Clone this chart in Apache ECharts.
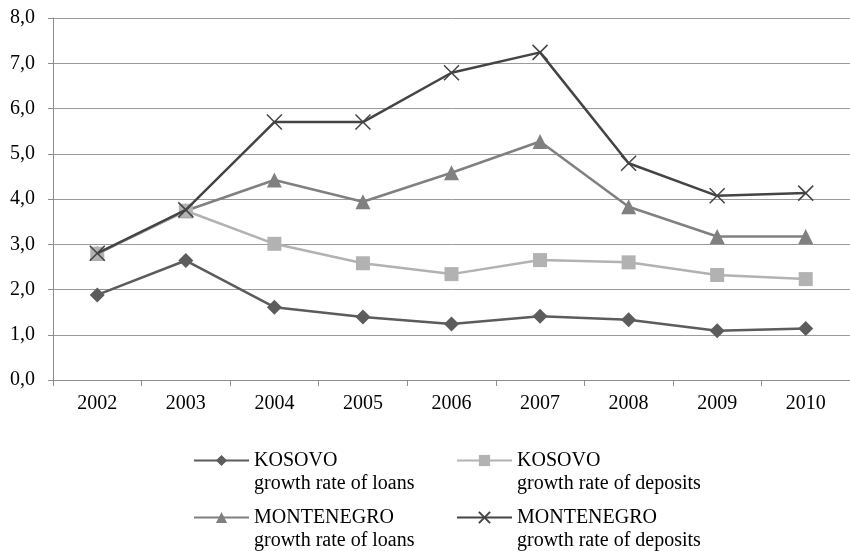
<!DOCTYPE html>
<html><head><meta charset="utf-8">
<script src="https://cdn.jsdelivr.net/npm/echarts@6/dist/echarts.min.js"></script>
<style>html,body{margin:0;padding:0;background:#fff}#c{width:850px;height:551px}</style>
</head><body><div id="c"></div>
<script>
const years = ['2002','2003','2004','2005','2006','2007','2008','2009','2010'];
const kosovoLoans = [1.88, 2.64, 1.61, 1.39, 1.24, 1.41, 1.33, 1.09, 1.14];
const kosovoDeposits = [2.79, 3.74, 3.01, 2.58, 2.34, 2.65, 2.60, 2.32, 2.23];
const montLoans = [2.80, 3.74, 4.42, 3.94, 4.58, 5.27, 3.83, 3.17, 3.17];
const montDeposits = [2.80, 3.76, 5.70, 5.70, 6.79, 7.24, 4.79, 4.07, 4.13];
const names = ['KOSOVO\ngrowth rate of loans','KOSOVO\ngrowth rate of deposits','MONTENEGRO\ngrowth rate of loans','MONTENEGRO\ngrowth rate of deposits'];

const font = '"Liberation Serif", "DejaVu Serif", serif';
const xPath = 'path://M0,0L10,10M10,0L0,10';
function mk(name, data, color, symbol, size, z, extra) {
  return Object.assign({
    name, type:'line', data, symbol, symbolSize:size, z,
    lineStyle:{color, width:2.5},
    itemStyle:{color},
    emphasis:{disabled:true}
  }, extra||{});
}
const chart = echarts.init(document.getElementById('c'), null, {renderer:'canvas'});
const legendText = {fontFamily:font, fontSize:20, color:'#000', lineHeight:23, width:190};
const legendBase = {left:193, itemWidth:55, itemHeight:14, itemGap:12, textStyle:legendText, selectedMode:false, padding:0,
  formatter: n => '\n' + n};
chart.setOption({
  animation:false,
  textStyle:{fontFamily:font},
  grid:{left:53, top:18, height:362, width:803, containLabel:false},
  xAxis:{type:'category', data:years, boundaryGap:true,
    axisLine:{lineStyle:{color:'#8c8c8c', width:1}},
    axisTick:{show:true, length:6, lineStyle:{color:'#8c8c8c'}},
    axisLabel:{fontFamily:font, fontSize:20, color:'#000', margin:14}},
  yAxis:{type:'value', min:0, max:8, interval:1,
    axisLine:{show:true, lineStyle:{color:'#8c8c8c'}},
    axisTick:{show:true, length:5, lineStyle:{color:'#8c8c8c'}},
    axisLabel:{fontFamily:font, fontSize:20, color:'#000', margin:18, formatter:v=>v.toFixed(1).replace('.',',')},
    splitLine:{lineStyle:{color:'#9a9a9a', width:1}}},
  legend:[
    Object.assign({data:[names[0],names[1]], top:426}, legendBase),
    Object.assign({data:[names[2],names[3]], top:483}, legendBase)
  ],
  series:[
    mk(names[0], kosovoLoans, '#5c5c5c', 'diamond', 15, 2),
    mk(names[2], montLoans, '#808080', 'triangle', 15, 3),
    mk(names[1], kosovoDeposits, '#b2b2b2', 'rect', 14, 4),
    mk(names[3], montDeposits, '#444444', xPath, 15, 5, {itemStyle:{color:'none', borderColor:'#444444', borderWidth:1.5}})
  ]
});
</script></body></html>
